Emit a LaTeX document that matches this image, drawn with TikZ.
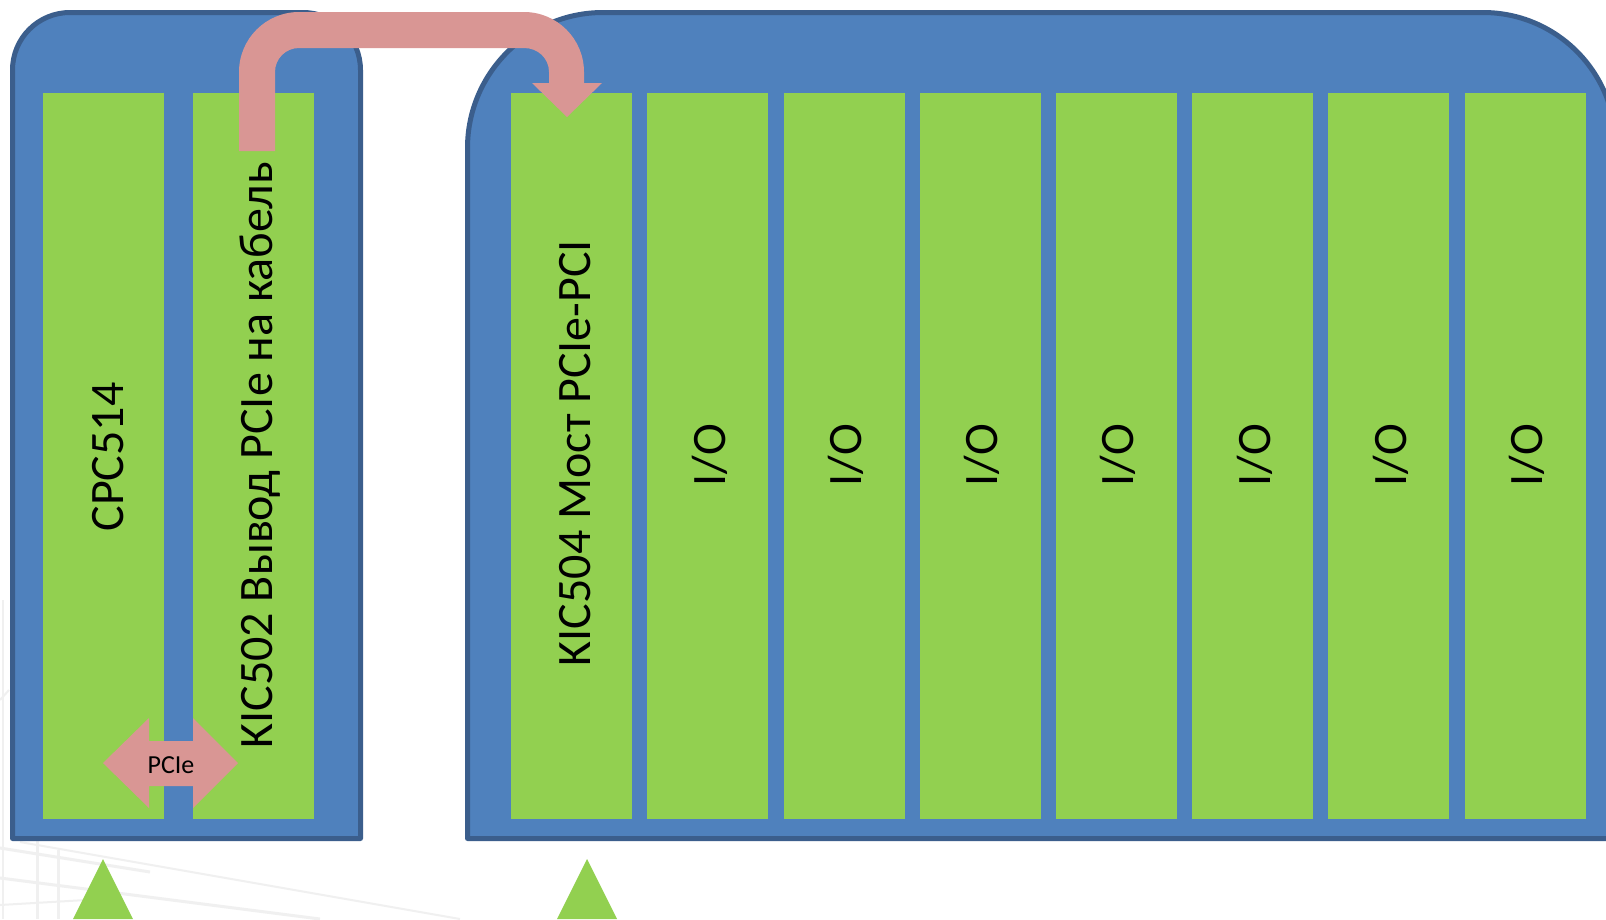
\documentclass[tikz,border=0pt]{standalone}
\usepackage{fontspec}
\setmainfont{Carlito}
\definecolor{chassis}{HTML}{4F81BD}
\definecolor{chassisline}{HTML}{3B5E8C}
\definecolor{boardgreen}{HTML}{92D050}
\definecolor{linkpink}{HTML}{D99694}
\definecolor{sketchgray}{HTML}{F0F0F0}

\begin{document}
\begin{tikzpicture}[x=1pt,y=-1pt,
  chassisbox/.style={fill=chassis,draw=chassisline,line width=5pt,line join=round},
  slot/.style={fill=boardgreen,draw=none,minimum width=121pt,minimum height=726pt,
               inner sep=0pt,anchor=north west},
  boardtext/.style={rotate=90,anchor=base,inner sep=0pt,
                    font=\fontsize{48}{57}\selectfont},
  linkshape/.style={fill=linkpink,draw=none},
  sketchline/.style={draw=sketchgray,line width=3pt}]

% page
\fill[white] (0,0) rectangle (1606,919);
\useasboundingbox (0,0) rectangle (1606,919);

% faint drawing in the lower left corner
\draw[sketchline] (37,760) -- (37,919);
\draw[sketchline] (58,850) -- (58,919);
\draw[sketchline] (0,848) -- (150,872);
\draw[sketchline] (0,878) -- (320,919);
\draw[sketchline,line width=2pt] (20,842) -- (460,919);
\draw[sketchline,line width=2pt] (0,905) -- (120,898);
\draw[sketchline,line width=2pt] (3,600) -- (3,919);
\draw[sketchline,line width=2pt] (0,700) -- (9,690);

% left chassis
\draw[chassisbox] (12.5,838.5) -- (12.5,70)
  .. controls (12.5,38.2) and (38.2,12.5) .. (70,12.5) -- (303,12.5)
  .. controls (334.8,12.5) and (360.5,38.2) .. (360.5,70) -- (360.5,838.5) -- cycle;

% right chassis
\draw[chassisbox] (467.5,838.5) -- (467.5,148)
  .. controls (467.5,73.2) and (528.2,12.5) .. (603,12.5) -- (1483,12.5)
  .. controls (1556.2,12.5) and (1615.5,71.8) .. (1615.5,145) -- (1615.5,838.5) -- cycle;

% boards of the left chassis
\node[slot] (cpu) at (43,93) {};
\node[slot] (cab) at (193,93) {};

% boards of the right chassis
\foreach \k in {0,...,7}
  \node[slot] (s\k) at (511+136.2*\k,93) {};

% board names
\node[boardtext] (tcpu) at (123,457) {CPC514};
\node[boardtext] (tcab) at (272,455.5) {KIC502 Вывод PCIe на кабель};
\node[boardtext] (tbr) at (590,453) {KIC504 Мост PCIe-PCI};
\foreach \k in {1,...,7}
  \node[boardtext] (tio\k) at (511+136.2*\k+78,455) {I/O};

% cable link between the chassis
\fill[linkshape] (239,151) -- (239,72)
  .. controls (239,38.9) and (265.9,12) .. (299,12) -- (524,12)
  .. controls (557.1,12) and (584,38.9) .. (584,72) -- (584,83) -- (602,83)
  -- (567,117) -- (532,83) -- (549,83) -- (549,72)
  .. controls (549,58.2) and (537.8,48) .. (524,48) -- (299,48)
  .. controls (285.7,48) and (275,58.7) .. (275,72) -- (275,151) -- cycle;

% PCIe link between the two left boards
\fill[linkshape] (103,763) -- (149,718) -- (149,741) -- (193,741) -- (193,718)
  -- (238,763) -- (193,808) -- (193,786) -- (149,786) -- (149,808) -- cycle;
\node[inner sep=0pt,font=\fontsize{26}{30}\selectfont] (pcie) at (171,765) {PCIe};

% supports under the chassis
\fill[boardgreen] (103,859) -- (133,919) -- (73,919) -- cycle;
\fill[boardgreen] (587,859) -- (617,919) -- (557,919) -- cycle;
\end{tikzpicture}
\end{document}
